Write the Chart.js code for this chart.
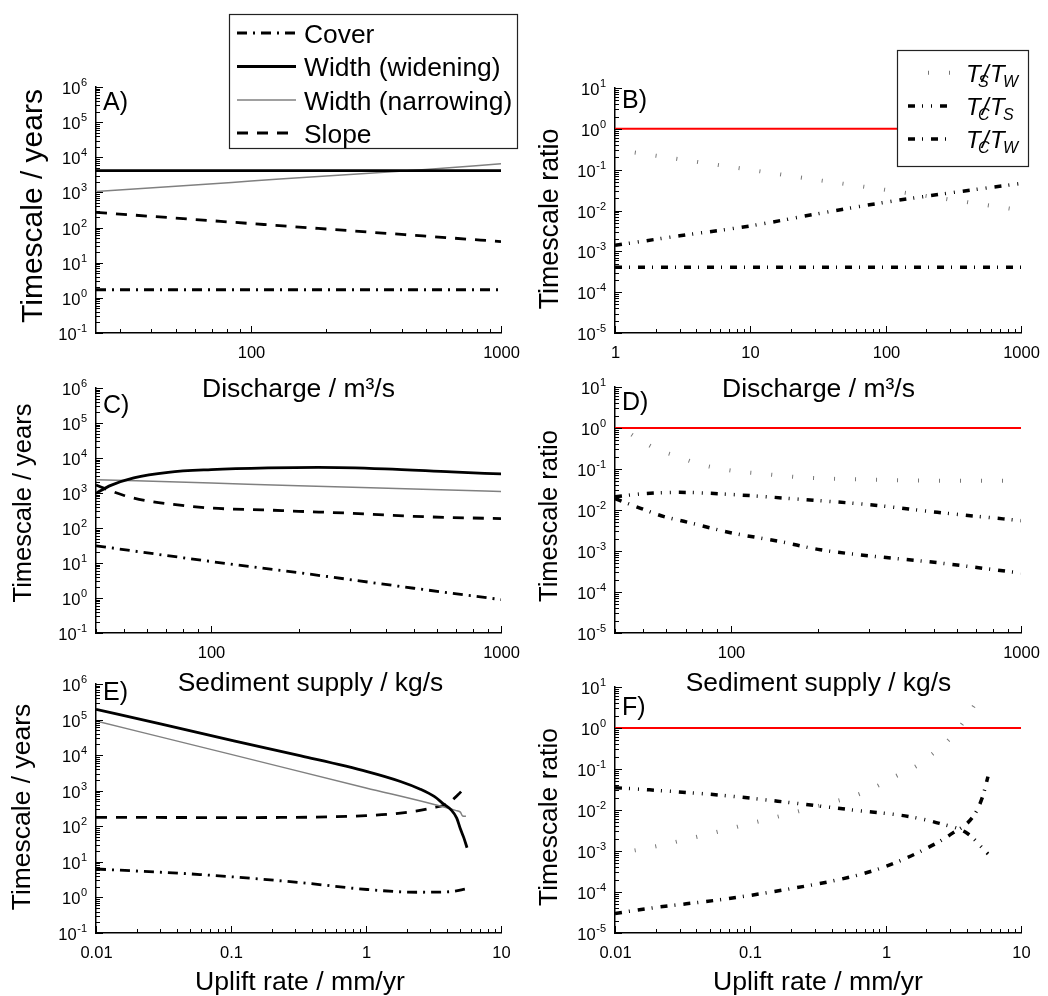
<!DOCTYPE html>
<html>
<head>
<meta charset="utf-8">
<script src="https://cdn.jsdelivr.net/npm/chart.js@4.4.1/dist/chart.umd.min.js"></script>
<style>
  html, body { margin: 0; padding: 0; background: #fff; }
  #wrap { position: relative; width: 1048px; height: 996px; overflow: hidden; }
  #wrap canvas { position: absolute; left: 0; top: 0; }
</style>
</head>
<body>
<div id="wrap">
  <canvas id="pA" width="1048" height="996"></canvas>
  <canvas id="pB" width="1048" height="996"></canvas>
  <canvas id="pC" width="1048" height="996"></canvas>
  <canvas id="pD" width="1048" height="996"></canvas>
  <canvas id="pE" width="1048" height="996"></canvas>
  <canvas id="pF" width="1048" height="996"></canvas>
</div>
<script>
const FONT = '"Liberation Sans", Arial, Helvetica, sans-serif';
const W = 1048, H = 996;

// A) timescales vs discharge
const qA = [24, 50, 100, 200, 500, 1000];
const coverA = [1.7, 1.7, 1.7, 1.7, 1.7, 1.7];
const widenA = [4150, 4150, 4150, 4150, 4150, 4150];
const narrowA = [1070, 1500, 2100, 2950, 4500, 6500];
const slopeA = [270, 186, 130, 91, 57, 40];

// B) timescale ratios vs discharge
const qB = [1, 3, 10, 30, 100, 300, 1000];
const tsTwB = [0.31, 0.18, 0.099, 0.057, 0.032, 0.0185, 0.0101];
const tcTsB = [0.0014, 0.0024, 0.0042, 0.0081, 0.016, 0.027, 0.046];
const tcTwB = [4.1e-4, 4.1e-4, 4.1e-4, 4.1e-4, 4.1e-4, 4.1e-4, 4.1e-4];

// C) timescales vs sediment supply
const qsWidenC = [40, 45, 54, 71, 100, 157, 234, 397, 675, 1000];
const widenC = [980, 1650, 2700, 3900, 4650, 5200, 5400, 4900, 4000, 3500];
const qsSlopeC = [40, 45, 50, 60, 74, 100, 150, 200, 300, 500, 1000];
const slopeC = [1700, 1150, 850, 600, 470, 370, 330, 300, 265, 215, 185];
const qsC = [40, 100, 200, 500, 1000];
const narrowC = [2400, 1920, 1620, 1300, 1100];
const coverC = [31, 11, 5.3, 1.9, 0.9];

// D) timescale ratios vs sediment supply
const qsTsTwD = [40, 48, 56, 66, 77, 90, 106, 127, 177, 300, 500, 1000];
const tsTwD = [1.3, 0.55, 0.3, 0.2, 0.135, 0.105, 0.087, 0.077, 0.062, 0.055, 0.052, 0.052];
const qsTcTsD = [40, 50, 66, 100, 178, 300, 515, 1000];
const tcTsD = [0.021, 0.025, 0.027, 0.024, 0.018, 0.0135, 0.0088, 0.0055];
const qsTcTwD = [40, 49, 59, 69, 100, 148, 204, 302, 513, 1000];
const tcTwD = [0.019, 0.011, 0.0069, 0.0053, 0.0028, 0.0017, 0.00107, 0.00076, 0.00052, 0.00029];

// E) timescales vs uplift rate
const uWidenE = [0.01, 0.03, 0.105, 0.33, 1.02, 1.8, 2.5, 3.2, 3.77, 4.27, 4.7, 5.0, 5.3, 5.6];
const widenE = [1.95e5, 7.6e4, 2.5e4, 9500, 3450, 1820, 1120, 690, 420, 290, 170, 85, 48, 25];
const uNarrowE = [0.01, 0.1, 1, 3.2, 4.6, 5.0, 5.2, 5.5];
const narrowE = [9.1e4, 1.05e4, 1200, 410, 280, 250, 195, 190];
const uSlopeE = [0.01, 0.1, 0.3, 1.0, 1.8, 3.05, 4.1, 4.8, 5.6];
const slopeE = [178, 176, 178, 200, 235, 325, 450, 770, 1400];
const uCoverE = [0.01, 0.059, 0.33, 1.02, 2.4, 4.2, 5.6];
const coverE = [6.3, 4.4, 2.6, 1.67, 1.4, 1.45, 1.75];

// F) timescale ratios vs uplift rate
const uTsTwF = [0.01, 0.02, 0.04, 0.08, 0.16, 0.32, 0.65, 0.9, 1.2, 1.7, 2.24, 2.9, 3.7, 4.5];
const tsTwF = [8.5e-4, 1.3e-3, 2.2e-3, 3.9e-3, 6.9e-3, 0.0126, 0.025, 0.041, 0.068, 0.12, 0.24, 0.5, 1.3, 3.5];
const uTcTsF = [0.01, 0.018, 0.06, 0.17, 0.57, 1.5, 2.5, 4.0, 5.7];
const tcTsF = [0.035, 0.031, 0.023, 0.016, 0.01, 0.0069, 0.0047, 0.0027, 8.5e-4];
const uTcTwF = [0.01, 0.019, 0.06, 0.17, 0.57, 1.0, 1.8, 3.0, 4.5, 5.2, 5.7];
const tcTwF = [3.0e-5, 4.1e-5, 6.5e-5, 1.1e-4, 2.4e-4, 4.2e-4, 9.7e-4, 2.5e-3, 7.5e-3, 0.021, 0.065];

const legendA = ['Cover', 'Width (widening)', 'Width (narrowing)', 'Slope'];
const legendB = ['T_S/T_W', 'T_C/T_S', 'T_C/T_W'];

// line styles
const ST = {
  cover:  { borderColor: '#000', borderWidth: 2.8, borderDash: [10, 6, 2, 6] },
  widen:  { borderColor: '#000', borderWidth: 2.8 },
  narrow: { borderColor: '#808080', borderWidth: 1.5 },
  slope:  { borderColor: '#000', borderWidth: 2.8, borderDash: [11, 9] },
  tsTw:   { borderColor: '#777', borderWidth: 4, borderDash: [1, 20], borderDashOffset: 1 },
  tcTs:   { borderColor: '#000', borderWidth: 3.5, borderDash: [7, 7, 1, 8, 1, 8] },
  tcTw:   { borderColor: '#000', borderWidth: 3.5, borderDash: [7, 7, 1, 8] },
  unity:  { borderColor: '#ff0000', borderWidth: 2 }
};

function series(label, xs, ys, style) {
  return Object.assign({
    label: label,
    data: xs.map((x, i) => ({ x: x, y: ys[i] })),
    pointRadius: 0,
    fill: false,
    cubicInterpolationMode: 'monotone'
  }, style);
}

function logTicks(min, max) {
  const out = [];
  for (let e = Math.floor(Math.log10(min)) - 1; e <= Math.ceil(Math.log10(max)); e++) {
    for (let m = 1; m < 10; m++) {
      const v = m * Math.pow(10, e);
      if (v >= min * 0.9999 && v <= max * 1.0001) out.push({ v: v, e: e, major: m === 1 });
    }
  }
  return out;
}

function fmtX(v) {
  return v >= 1 ? String(Math.round(v)) : String(+v.toPrecision(1));
}

// per canvas decoration (text, ticks, legends)
const deco = {};

const decoPlugin = {
  id: 'deco',
  afterDraw(chart) {
    const d = deco[chart.canvas.id];
    const ctx = chart.ctx, a = chart.chartArea;
    const xs = chart.scales.x, ys = chart.scales.y;
    ctx.save();
    ctx.strokeStyle = '#000';
    ctx.fillStyle = '#000';
    ctx.lineWidth = 1;
    ctx.setLineDash([]);

    // x ticks (inward) and labels
    ctx.font = '16.5px ' + FONT;
    ctx.textAlign = 'center';
    ctx.textBaseline = 'alphabetic';
    logTicks(xs.min, xs.max).forEach(t => {
      const px = Math.round(xs.getPixelForValue(t.v)) + 0.5;
      ctx.beginPath();
      ctx.moveTo(px, a.bottom);
      ctx.lineTo(px, a.bottom - (t.major ? 7 : 4));
      ctx.stroke();
      if (t.major) ctx.fillText(fmtX(t.v), px, a.bottom + 25);
    });

    // y ticks (inward) and 10^n labels
    logTicks(ys.min, ys.max).forEach(t => {
      const py = Math.round(ys.getPixelForValue(t.v)) + 0.5;
      ctx.beginPath();
      ctx.moveTo(a.left, py);
      ctx.lineTo(a.left + (t.major ? 7 : 4), py);
      ctx.stroke();
      if (t.major) {
        const ex = String(t.e);
        ctx.textAlign = 'right';
        ctx.font = '11px ' + FONT;
        const ew = ctx.measureText(ex).width;
        ctx.fillText(ex, a.left - 9, py - 1.5);
        ctx.font = '16.5px ' + FONT;
        ctx.fillText('10', a.left - 9 - ew - 0.5, py + 6.5);
      }
    });

    // axis titles
    ctx.textAlign = 'center';
    ctx.font = d.xTitle.size + 'px ' + FONT;
    ctx.fillText(d.xTitle.text, d.xTitle.cx, d.xTitle.base);
    ctx.save();
    ctx.font = d.yTitle.size + 'px ' + FONT;
    ctx.translate(d.yTitle.base, d.yTitle.cy);
    ctx.rotate(-Math.PI / 2);
    ctx.fillText(d.yTitle.text, 0, 0);
    ctx.restore();

    // panel letter
    ctx.textAlign = 'left';
    ctx.font = '25px ' + FONT;
    ctx.fillText(d.letter.text, d.letter.x, d.letter.base);

    // legend
    const L = d.legend;
    if (L) {
      ctx.fillStyle = '#fff';
      ctx.fillRect(L.x, L.y, L.w, L.h);
      ctx.strokeStyle = '#222';
      ctx.lineWidth = 1.2;
      ctx.strokeRect(L.x + 0.5, L.y + 0.5, L.w, L.h);
      L.items.forEach((idx, k) => {
        const ds = chart.data.datasets[idx];
        const ry = L.rowY[k];
        ctx.save();
        ctx.strokeStyle = ds.borderColor;
        ctx.lineWidth = ds.borderWidth;
        ctx.setLineDash(ds.borderDash || []);
        ctx.lineDashOffset = ds.borderDashOffset || 0;
        ctx.beginPath();
        ctx.moveTo(L.x0, ry);
        ctx.lineTo(L.x1, ry);
        ctx.stroke();
        ctx.restore();
        ctx.fillStyle = '#000';
        ctx.textAlign = 'left';
        if (L.ratio) {
          // T_a/T_b in italics with subscripts
          const parts = ds.label.split('/').map(p => p.split('_'));
          const x0 = L.tx;
          ctx.font = 'italic 24px ' + FONT;
          ctx.fillText(parts[0][0], x0, ry + 9);
          ctx.fillText('/', x0 + 16, ry + 9);
          ctx.fillText(parts[1][0], x0 + 24, ry + 9);
          ctx.font = 'italic 16px ' + FONT;
          ctx.fillText(parts[0][1], x0 + 12, ry + 14);
          ctx.fillText(parts[1][1], x0 + 37, ry + 14);
        } else {
          ctx.font = '26.4px ' + FONT;
          ctx.fillText(ds.label, L.tx, ry + 9.5);
        }
      });
    }
    ctx.restore();
  }
};

function makePanel(id, box, xMin, xMax, yMin, yMax, datasets, d) {
  deco[id] = d;
  return new Chart(document.getElementById(id), {
    type: 'line',
    data: { datasets: datasets },
    options: {
      responsive: false,
      animation: false,
      events: [],
      layout: { padding: { left: box.l, right: W - box.r, top: box.t, bottom: H - box.b } },
      plugins: { legend: { display: false }, tooltip: { enabled: false } },
      scales: {
        x: {
          type: 'logarithmic', position: 'bottom', min: xMin, max: xMax,
          grid: { display: false }, ticks: { display: false },
          border: { display: true, color: '#000', width: 1.5 },
          afterFit: s => { s.height = 0; }
        },
        y: {
          type: 'logarithmic', position: 'left', min: yMin, max: yMax,
          grid: { display: false }, ticks: { display: false },
          border: { display: true, color: '#000', width: 1.5 },
          afterFit: s => { s.width = 0; }
        }
      }
    },
    plugins: [decoPlugin]
  });
}

// A
makePanel('pA', { l: 96, r: 501, t: 87, b: 333 }, 24, 1000, 0.1, 1e6, [
  series(legendA[0], qA, coverA, ST.cover),
  series(legendA[1], qA, widenA, ST.widen),
  series(legendA[2], qA, narrowA, ST.narrow),
  series(legendA[3], qA, slopeA, ST.slope)
], {
  xTitle: { text: 'Discharge / m\u00B3/s', size: 26.5, cx: 298.5, base: 397 },
  yTitle: { text: 'Timescale / years', size: 30, base: 41.5, cy: 206 },
  letter: { text: 'A)', x: 103, base: 110 },
  legend: { x: 229, y: 14, w: 288, h: 134, items: [0, 1, 2, 3], rowY: [33, 66.5, 100, 133], x0: 237, x1: 296, tx: 304 }
});

// B
makePanel('pB', { l: 615, r: 1021, t: 88, b: 333 }, 1, 1000, 1e-5, 10, [
  series('unity', [1, 1000], [1, 1], ST.unity),
  series(legendB[0], qB, tsTwB, ST.tsTw),
  series(legendB[1], qB, tcTsB, ST.tcTs),
  series(legendB[2], qB, tcTwB, ST.tcTw)
], {
  xTitle: { text: 'Discharge / m\u00B3/s', size: 26.5, cx: 818.5, base: 397 },
  yTitle: { text: 'Timescale ratio', size: 26.8, base: 558, cy: 219 },
  letter: { text: 'B)', x: 622, base: 108 },
  legend: { x: 897, y: 50, w: 131, h: 116, items: [1, 2, 3], rowY: [72.7, 106, 139], x0: 908, x1: 953, tx: 966, ratio: true }
});

// C
makePanel('pC', { l: 96, r: 501, t: 388, b: 633 }, 40, 1000, 0.1, 1e6, [
  series('Cover', qsC, coverC, ST.cover),
  series('Width (widening)', qsWidenC, widenC, ST.widen),
  series('Width (narrowing)', qsC, narrowC, ST.narrow),
  series('Slope', qsSlopeC, slopeC, ST.slope)
], {
  xTitle: { text: 'Sediment supply / kg/s', size: 26.4, cx: 310.5, base: 691 },
  yTitle: { text: 'Timescale / years', size: 25.5, base: 31, cy: 503 },
  letter: { text: 'C)', x: 103, base: 413 }
});

// D
makePanel('pD', { l: 615, r: 1021, t: 387, b: 633 }, 40, 1000, 1e-5, 10, [
  series('unity', [40, 1000], [1, 1], ST.unity),
  series('T_S/T_W', qsTsTwD, tsTwD, ST.tsTw),
  series('T_C/T_S', qsTcTsD, tcTsD, ST.tcTs),
  series('T_C/T_W', qsTcTwD, tcTwD, ST.tcTw)
], {
  xTitle: { text: 'Sediment supply / kg/s', size: 26.4, cx: 818.5, base: 691 },
  yTitle: { text: 'Timescale ratio', size: 25.5, base: 557, cy: 516 },
  letter: { text: 'D)', x: 622, base: 410 }
});

// E
makePanel('pE', { l: 96, r: 501, t: 684, b: 933 }, 0.01, 10, 0.1, 1e6, [
  series('Cover', uCoverE, coverE, ST.cover),
  series('Width (widening)', uWidenE, widenE, ST.widen),
  series('Width (narrowing)', uNarrowE, narrowE, ST.narrow),
  series('Slope', uSlopeE, slopeE, ST.slope)
], {
  xTitle: { text: 'Uplift rate / mm/yr', size: 26.6, cx: 300, base: 990 },
  yTitle: { text: 'Timescale / years', size: 26.5, base: 30, cy: 807 },
  letter: { text: 'E)', x: 103, base: 700 }
});

// F
makePanel('pF', { l: 615, r: 1021, t: 687, b: 933 }, 0.01, 10, 1e-5, 10, [
  series('unity', [0.01, 10], [1, 1], ST.unity),
  series('T_S/T_W', uTsTwF, tsTwF, ST.tsTw),
  series('T_C/T_S', uTcTsF, tcTsF, ST.tcTs),
  series('T_C/T_W', uTcTwF, tcTwF, ST.tcTw)
], {
  xTitle: { text: 'Uplift rate / mm/yr', size: 26.6, cx: 818, base: 990 },
  yTitle: { text: 'Timescale ratio', size: 26.4, base: 557, cy: 817 },
  letter: { text: 'F)', x: 622, base: 715 }
});
</script>
</body>
</html>
